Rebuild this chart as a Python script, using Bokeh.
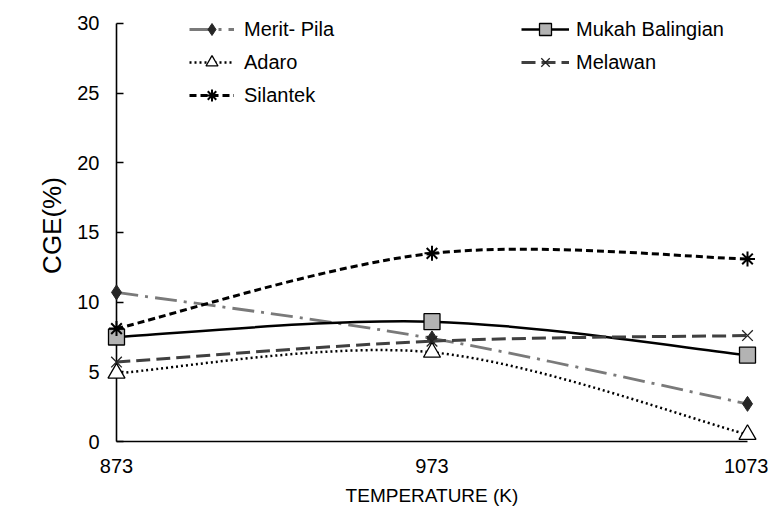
from bokeh.plotting import figure
from bokeh.models import Range1d, FixedTicker, Legend, LegendItem
from bokeh.embed import file_html
from bokeh.resources import INLINE

temps = [873, 973, 1073]
merit_pila = [10.7, 7.4, 2.7]
mukah_balingian = [7.5, 8.6, 6.2]
adaro = [4.9, 6.4, 0.5]
melawan = [5.7, 7.2, 7.6]
silantek = [8.1, 13.5, 13.1]
y_ticks = [0, 5, 10, 15, 20, 25, 30]

FONT = "Liberation Sans"

p = figure(width=768, height=508, output_backend="svg", toolbar_location=None,
           x_range=Range1d(873, 1073), y_range=Range1d(0, 31),
           min_border_left=116, min_border_right=21, min_border_top=9, min_border_bottom=65)
p.outline_line_color = None
p.xgrid.visible = False
p.ygrid.visible = False

for ax in (p.xaxis[0], p.yaxis[0]):
    ax.axis_line_color = "black"
    ax.axis_line_width = 1.6
    ax.major_tick_line_color = "black"
    ax.major_tick_line_width = 1.6
    ax.minor_tick_line_color = None
    ax.major_label_text_font = FONT
    ax.major_label_text_font_size = "20px"
    ax.major_label_text_color = "black"
    ax.axis_label_text_font = FONT
    ax.axis_label_text_font_style = "normal"
    ax.axis_label_text_color = "black"

p.xaxis.ticker = FixedTicker(ticks=temps)
p.xaxis.major_tick_in = 0
p.xaxis.major_tick_out = 0
p.xaxis.major_label_standoff = 17
p.xaxis.axis_label = "TEMPERATURE (K)"
p.xaxis.axis_label_text_font_size = "19px"
p.xaxis.axis_label_standoff = 9

p.yaxis.ticker = FixedTicker(ticks=y_ticks)
p.yaxis.bounds = (0, 30)
p.yaxis.major_tick_in = 7
p.yaxis.major_tick_out = 0
p.yaxis.major_label_standoff = 17
p.yaxis.axis_label = "CGE(%)"
p.yaxis.axis_label_text_font_size = "26px"
p.yaxis.axis_label_standoff = 7


def smooth(xs, ys):
    n = len(xs)
    seg = {k: [] for k in ("x0", "y0", "x1", "y1", "cx0", "cy0", "cx1", "cy1")}
    for i in range(n - 1):
        im1 = max(i - 1, 0)
        ip2 = min(i + 2, n - 1)
        seg["x0"].append(xs[i]); seg["y0"].append(ys[i])
        seg["x1"].append(xs[i + 1]); seg["y1"].append(ys[i + 1])
        seg["cx0"].append(xs[i] + (xs[i + 1] - xs[im1]) / 6)
        seg["cy0"].append(ys[i] + (ys[i + 1] - ys[im1]) / 6)
        seg["cx1"].append(xs[i + 1] - (xs[ip2] - xs[i]) / 6)
        seg["cy1"].append(ys[i + 1] - (ys[ip2] - ys[i]) / 6)
    return seg


series = [
    ("Merit- Pila", merit_pila, dict(line_color="#7a7a7a", line_width=2.8, line_dash="22 7 3 7"),
     dict(marker="diamond", size=15, fill_color="#262626", line_color="#262626")),
    ("Mukah Balingian", mukah_balingian, dict(line_color="black", line_width=2.5, line_dash="solid"),
     dict(marker="square", size=16, fill_color="#b3b3b3", line_color="black", line_width=1.3)),
    ("Adaro", adaro, dict(line_color="black", line_width=2.5, line_dash="2 3"),
     dict(marker="triangle", size=17, fill_color="white", line_color="black", line_width=1.3)),
    ("Melawan", melawan, dict(line_color="#404040", line_width=3, line_dash="14 6"),
     dict(marker="x", size=15, line_color="#222222", line_width=1.3)),
    ("Silantek", silantek, dict(line_color="black", line_width=3, line_dash="7 4"),
     dict(marker="asterisk", size=15, line_color="black", line_width=2)),
]

items = {}
for name, ys, lstyle, mstyle in series:
    seg = smooth(temps, ys)
    lr = p.bezier(x0="x0", y0="y0", x1="x1", y1="y1", cx0="cx0", cy0="cy0",
                  cx1="cx1", cy1="cy1", source=seg, **lstyle)
    sr = p.scatter(temps, ys, **mstyle)
    lr.level = "overlay"
    sr.level = "overlay"
    items[name] = LegendItem(label=name, renderers=[lr, sr])


def make_legend(names, x, y, standoff, gw):
    lg = Legend(items=[items[n] for n in names], location=(x, y),
                orientation="vertical", padding=0, margin=0, spacing=3,
                glyph_height=30, glyph_width=gw, label_standoff=standoff,
                label_height=20, label_text_font=FONT, label_text_font_size="20px",
                label_text_color="black", border_line_alpha=0, background_fill_alpha=0)
    p.add_layout(lg, "center")


make_legend(["Merit- Pila", "Adaro", "Silantek"], 73, 331, 10, 45)
make_legend(["Mukah Balingian", "Melawan"], 405, 364, 7, 48)

open("out.html", "w").write(file_html(p, INLINE))
